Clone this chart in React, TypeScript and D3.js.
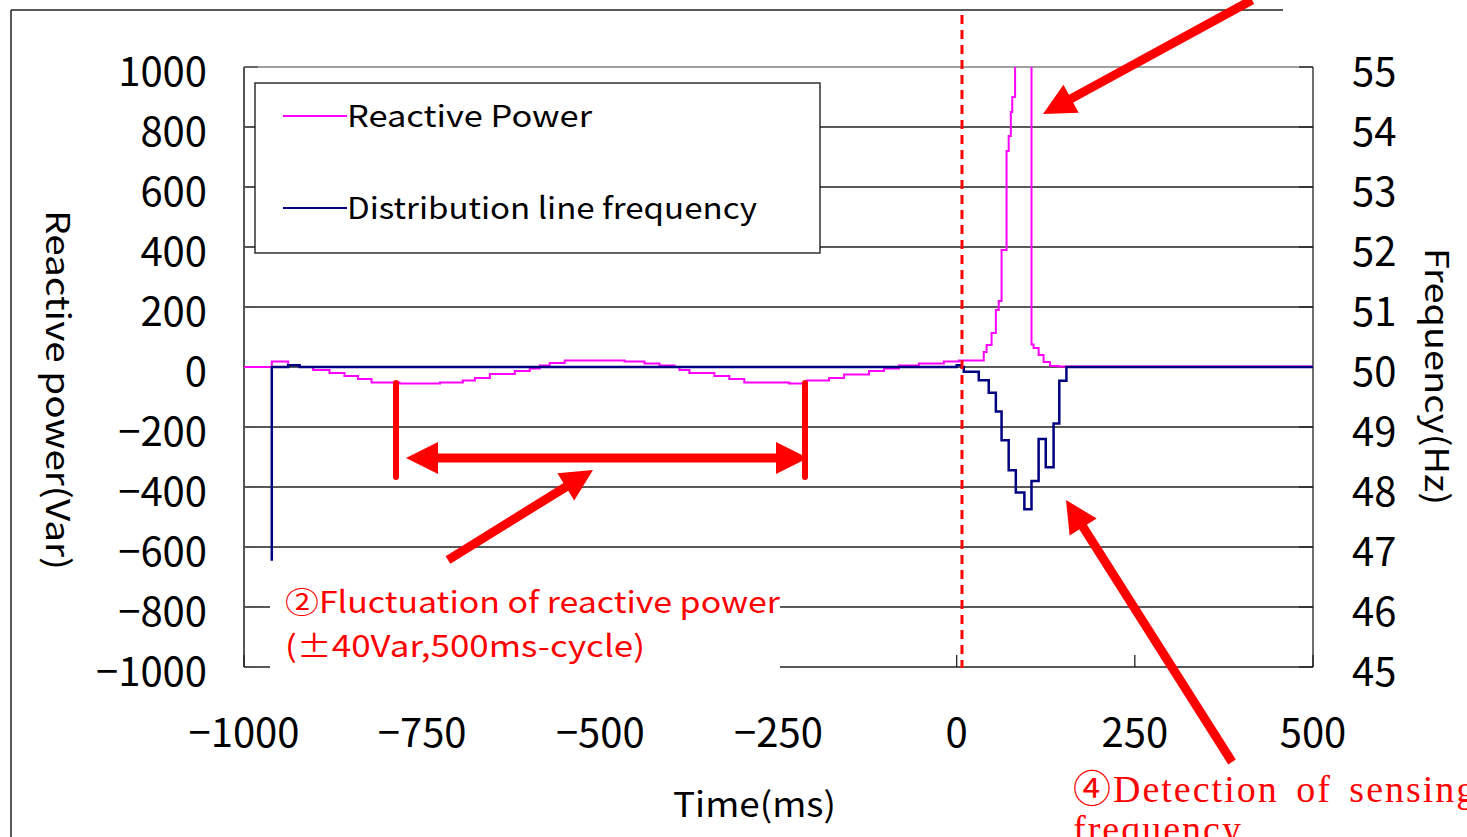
import React from "react";
import * as d3 from "d3";

// ---- data ----
const reactiveTime = [-1000, -961, -938, -922, -903, -880, -859, -840, -821, -782, -725, -693, -676, -655, -620, -599, -585, -571, -550, -466, -438, -417, -396, -389, -375, -340, -319, -298, -235, -210, -179, -158, -123, -102, -81, -53, -18, 3, 34, 38, 42, 49, 55, 59, 63, 70, 73, 76, 78, 82, 105, 108, 115, 122, 131, 143, 500];
const reactivePower = [0, 18, 7, 0, -10, -20, -30, -40, -52, -55, -52, -45, -37, -23, -13, -5, 5, 13, 22, 18, 12, 5, 0, -10, -20, -30, -40, -52, -55, -45, -37, -25, -13, -5, 5, 12, 18, 22, 22, 50, 73, 113, 190, 220, 390, 720, 770, 850, 900, 1100, 75, 63, 40, 17, 3, 2, 2];

const freqTime = [-961, -961, -938, -922, 0, 7, 10, 31, 45, 55, 63, 73, 83, 95, 105, 115, 125, 136, 144, 154, 500];
const frequency = [46.77, 50, 50.03, 50, 50.03, 50, 49.92, 49.78, 49.57, 49.26, 48.78, 48.28, 47.91, 47.63, 48.1, 48.8, 48.33, 49.06, 49.77, 50, 50];

const leftTicks = [-1000, -800, -600, -400, -200, 0, 200, 400, 600, 800, 1000];
const rightTicks = [45, 46, 47, 48, 49, 50, 51, 52, 53, 54, 55];
const xTicks = [-1000, -750, -500, -250, 0, 250, 500];

const seriesNames = ["Reactive Power", "Distribution line frequency"];
const seriesColors = ["#FF00FF", "#000080"];
const legendWidths = [245, 410];

const W = 1467, H = 837;
const PL = 244, PR = 1313, PT = 67, PB = 667;
const FONT = "'Noto Sans CJK JP', 'Noto Sans', sans-serif";
const RED = "#FF0000";

const fmt = (v: number) => (v < 0 ? "\u2212" + Math.abs(v) : String(v));

function Arrow({ x1, y1, x2, y2, w = 9 }: { x1: number; y1: number; x2: number; y2: number; w?: number }) {
  const dx = x2 - x1, dy = y2 - y1;
  const L = Math.hypot(dx, dy);
  const ux = dx / L, uy = dy / L;
  const hl = 32, hw = 16;
  const bx = x2 - ux * hl, by = y2 - uy * hl;
  const px = -uy, py = ux;
  return (
    <g>
      <line x1={x1} y1={y1} x2={bx + ux * 2} y2={by + uy * 2} stroke={RED} strokeWidth={w} />
      <polygon points={`${x2},${y2} ${bx + px * hw},${by + py * hw} ${bx - px * hw},${by - py * hw}`} fill={RED} />
    </g>
  );
}

export default function App() {
  const x = d3.scaleLinear().domain([-1000, 500]).range([PL, PR]);
  const yL = d3.scaleLinear().domain([-1000, 1000]).range([PB, PT]);
  const yR = d3.scaleLinear().domain([45, 55]).range([PB, PT]);

  const rpLine = d3
    .line<number>()
    .x((_, i) => x(reactiveTime[i]))
    .y((d) => yL(d))
    .curve(d3.curveStepAfter)(reactivePower) as string;
  const frLine = d3
    .line<number>()
    .x((_, i) => x(freqTime[i]))
    .y((d) => yR(d))
    .curve(d3.curveStepAfter)(frequency) as string;

  return (
    <svg width={W} height={H} style={{ position: "absolute", left: 0, top: 0, background: "#fff" }} fontFamily={FONT}>
      <defs>
        <clipPath id="plot">
          <rect x={PL} y={PT} width={PR - PL} height={PB - PT} />
        </clipPath>
      </defs>
      <rect x={0} y={0} width={W} height={H} fill="#fff" />
      {/* outer frame */}
      <line x1={11} y1={10} x2={1283} y2={10} stroke="#222" strokeWidth={1.5} />
      <line x1={11} y1={10} x2={11} y2={H} stroke="#222" strokeWidth={1.5} />

      {/* gridlines */}
      {leftTicks.map((v) => (
        <line key={v} x1={PL} x2={PR} y1={yL(v)} y2={yL(v)} stroke={v === 1000 ? "#808080" : "#222"} strokeWidth={1.3} />
      ))}
      {/* axes */}
      <line x1={PL} x2={PL} y1={PT} y2={PB} stroke="#555" strokeWidth={2} />
      <line x1={PR} x2={PR} y1={PT} y2={PB} stroke="#222" strokeWidth={1.3} />
      {rightTicks.map((v) => (
        <line key={v} x1={PR - 14} x2={PR} y1={yR(v)} y2={yR(v)} stroke="#222" strokeWidth={1.3} />
      ))}
      {leftTicks.map((v) => (
        <line key={v} x1={PL} x2={PL + 14} y1={yL(v)} y2={yL(v)} stroke="#555" strokeWidth={1.5} />
      ))}
      {xTicks.map((v) => (
        <line key={v} x1={x(v)} x2={x(v)} y1={PB - 12} y2={PB} stroke="#222" strokeWidth={1.3} />
      ))}

      {/* series */}
      <g clipPath="url(#plot)">
        <path d={rpLine} fill="none" stroke={seriesColors[0]} strokeWidth={2} />
        <path d={frLine} fill="none" stroke={seriesColors[1]} strokeWidth={2.5} />
      </g>

      {/* legend */}
      <rect x={255} y={83} width={565} height={170} fill="#fff" stroke="#111" strokeWidth={1.3} />
      {seriesNames.map((n, i) => (
        <g key={n}>
          <line x1={283} x2={347} y1={116 + i * 92} y2={116 + i * 92} stroke={seriesColors[i]} strokeWidth={2} />
          <text x={347} y={116 + i * 92} dy="0.36em" fontSize={30} fill="#000" textLength={legendWidths[i]} lengthAdjust="spacingAndGlyphs">{n}</text>
        </g>
      ))}

      {/* white box behind annotation */}
      <rect x={270} y={578} width={510} height={96} fill="#fff" />
      <text x={285} y={602} dy="0.36em" fontSize={30} fill={RED} textLength={495} lengthAdjust="spacingAndGlyphs">②Fluctuation of reactive power</text>
      <text x={285} y={646} dy="0.36em" fontSize={30} fill={RED} textLength={360} lengthAdjust="spacingAndGlyphs">(±40Var,500ms-cycle)</text>

      {/* tick labels */}
      {leftTicks.map((v) => (
        <text key={v} x={207} y={yL(v) + 5} dy="0.36em" textAnchor="end" fontSize={40} fill="#000">{fmt(v)}</text>
      ))}
      {rightTicks.map((v) => (
        <text key={v} x={1352} y={yR(v) + 5} dy="0.36em" textAnchor="start" fontSize={40} fill="#000">{v}</text>
      ))}
      {xTicks.map((v) => (
        <text key={v} x={x(v)} y={733} dy="0.36em" textAnchor="middle" fontSize={40} fill="#000">{fmt(v)}</text>
      ))}

      {/* axis titles */}
      <text x={673} y={805} dy="0.36em" fontSize={34} fill="#000" textLength={163} lengthAdjust="spacingAndGlyphs">Time(ms)</text>
      <text transform="translate(58,210) rotate(90)" dy="0.36em" fontSize={33} fill="#000" textLength={360} lengthAdjust="spacingAndGlyphs">Reactive power(Var)</text>
      <text transform="translate(1437,248) rotate(90)" dy="0.36em" fontSize={33} fill="#000" textLength={257} lengthAdjust="spacingAndGlyphs">Frequency(Hz)</text>

      {/* dashed trigger line */}
      <line x1={962} x2={962} y1={15} y2={668} stroke={RED} strokeWidth={3} strokeDasharray="9 6" />

      {/* annotation arrows */}
      <line x1={396} x2={396} y1={383} y2={477} stroke={RED} strokeWidth={6} strokeLinecap="round" />
      <line x1={805} x2={805} y1={383} y2={477} stroke={RED} strokeWidth={6} strokeLinecap="round" />
      <line x1={434} x2={780} y1={458} y2={458} stroke={RED} strokeWidth={9} />
      <polygon points="406,458 438,442 438,474" fill={RED} />
      <polygon points="808,458 776,442 776,474" fill={RED} />
      <Arrow x1={448} y1={560} x2={593} y2={470} />
      <Arrow x1={1252} y1={0} x2={1043} y2={114} />
      <Arrow x1={1232} y1={762} x2={1066} y2={500} />

      <text x={1073} y={788} dy="0.36em" fontSize={38} fill={RED} fontFamily="'Liberation Serif', 'Noto Sans CJK JP', serif" letterSpacing={2} wordSpacing={6}>④Detection of sensing</text>
      <text x={1073} y={828} dy="0.36em" fontSize={38} fill={RED} fontFamily="'Liberation Serif', serif" letterSpacing={2}>frequency</text>
    </svg>
  );
}
